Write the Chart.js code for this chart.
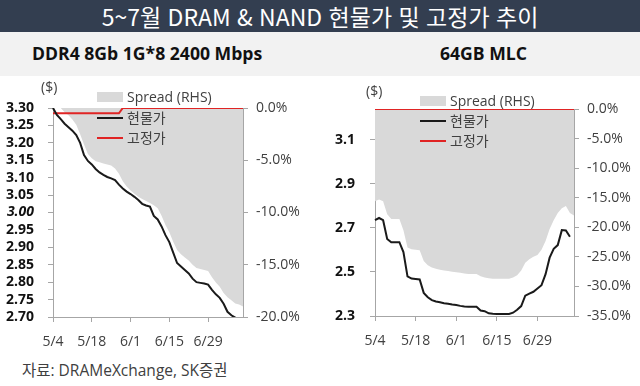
<!DOCTYPE html>
<html lang="ko">
<head>
<meta charset="utf-8">
<title>5~7월 DRAM &amp; NAND 현물가 및 고정가 추이</title>
<script src="https://cdn.jsdelivr.net/npm/chart.js@4.4.1/dist/chart.umd.min.js"></script>
<style>
    body {
        margin: 0;
        width: 640px;
        height: 386px;
        background: #fff;
        position: relative;
        overflow: hidden;
        font-family: "Open Sans", "Noto Sans CJK KR", sans-serif;
    }
    .title {
        position: absolute; left: 0; top: 0; width: 640px; height: 32px;
        background: #333e50; color: #fff;
        font-family: "Noto Sans CJK KR", sans-serif;
        font-size: 23px; line-height: 32px; text-align: center;
    }
    .band { position: absolute; left: 0; top: 32px; width: 640px; height: 44px; background: #f2f2f2; }
    .sub { position: absolute; top: 42px; font-weight: bold; font-size: 17.6px; line-height: 22px; color: #111; }
    .unit { position: absolute; font-size: 14px; line-height: 20px; color: #404040; }
    .chart { position: absolute; top: 76px; }
    .lg-box { position: absolute; width: 26px; height: 10px; background: #d9d9d9; }
    .lg-line { position: absolute; width: 26px; height: 2px; }
    .lg-text { position: absolute; font-size: 14px; line-height: 20px; color: #404040; white-space: nowrap; }
    .source { position: absolute; left: 22px; top: 360px; font-size: 15.5px; line-height: 20px; color: #404040; }
</style>
</head>
<body>
<div class="title">5~7월 DRAM &amp; NAND 현물가 및 고정가 추이</div>
<div class="band"></div>
<div class="sub" style="left:32px">DDR4 8Gb 1G*8 2400 Mbps</div>
<div class="sub" style="left:440px">64GB MLC</div>

<canvas id="ddrChart" class="chart" style="left:0" width="320" height="274"></canvas>
<canvas id="mlcChart" class="chart" style="left:320px" width="320" height="274"></canvas>

<div class="unit" style="left:41px; top:77px">($)</div>
<div class="unit" style="left:366px; top:81px">($)</div>

<!-- legend, left -->
<div class="lg-box" style="left:97px; top:92px"></div>
<div class="lg-text" style="left:127px; top:87px">Spread (RHS)</div>
<div class="lg-line" style="left:97px; top:117px; background:#1a1a1a"></div>
<div class="lg-text" style="left:127px; top:108px">현물가</div>
<div class="lg-line" style="left:97px; top:137px; background:#e02424"></div>
<div class="lg-text" style="left:127px; top:128px">고정가</div>

<!-- legend, right -->
<div class="lg-box" style="left:420px; top:96px"></div>
<div class="lg-text" style="left:450px; top:91px">Spread (RHS)</div>
<div class="lg-line" style="left:420px; top:120px; background:#1a1a1a"></div>
<div class="lg-text" style="left:450px; top:111px">현물가</div>
<div class="lg-line" style="left:420px; top:140px; background:#e02424"></div>
<div class="lg-text" style="left:450px; top:131px">고정가</div>

<div class="source">자료: DRAMeXchange, SK증권</div>

<script>
// weekdays, 5/4 ~ 7/10
const dates = [
    '5/4', '5/5', '5/6', '5/7', '5/8',
    '5/11', '5/12', '5/13', '5/14', '5/15',
    '5/18', '5/19', '5/20', '5/21', '5/22',
    '5/25', '5/26', '5/27', '5/28', '5/29',
    '6/1', '6/2', '6/3', '6/4', '6/5',
    '6/8', '6/9', '6/10', '6/11', '6/12',
    '6/15', '6/16', '6/17', '6/18', '6/19',
    '6/22', '6/23', '6/24', '6/25', '6/26',
    '6/29', '6/30', '7/1', '7/2', '7/3',
    '7/6', '7/7', '7/8', '7/9', '7/10'
];
const xTickLabels = ['5/4', '5/18', '6/1', '6/15', '6/29'];

// DDR4 8Gb ($), spread in %
const ddrSpot = [
    3.300, 3.280, 3.268, 3.255, 3.245, 3.235, 3.222, 3.200, 3.165, 3.148,
    3.138, 3.125, 3.115, 3.108, 3.102, 3.098, 3.093, 3.080, 3.069, 3.060,
    3.053, 3.045, 3.036, 3.025, 3.020, 3.017, 2.990, 2.980, 2.960, 2.935,
    2.915, 2.885, 2.855, 2.845, 2.835, 2.825, 2.810, 2.800, 2.798, 2.796,
    2.793, 2.778, 2.765, 2.755, 2.738, 2.715, 2.705, 2.698, 2.690, 2.682
];
const ddrFixed = [
    3.285, 3.285, 3.285, 3.285, 3.285, 3.285, 3.285, 3.285, 3.285, 3.285,
    3.285, 3.285, 3.285, 3.285, 3.285, 3.285, 3.285, 3.285, 3.300, 3.300,
    3.300, 3.300, 3.300, 3.300, 3.300, 3.300, 3.300, 3.300, 3.300, 3.300,
    3.300, 3.300, 3.300, 3.300, 3.300, 3.300, 3.300, 3.300, 3.300, 3.300,
    3.300, 3.300, 3.300, 3.300, 3.300, 3.300, 3.300, 3.300, 3.300, 3.300
];
const ddrSpread = [
    0, 0, 0, -0.4, -0.7, -1.1, -1.6, -2.5, -3.5, -4.4,
    -4.8, -5.1, -5.2, -5.3, -5.4, -5.5, -5.8, -6.3, -7.0, -7.5,
    -7.9, -8.2, -8.5, -8.7, -8.9, -9.1, -9.3, -9.6, -10.3, -11.2,
    -11.9, -12.8, -13.6, -14.0, -14.3, -14.6, -15.0, -15.3, -15.4, -15.5,
    -15.6, -16.2, -16.7, -17.1, -17.7, -18.1, -18.4, -18.7, -18.8, -19.0
];
const ddrPriceTicks = [2.70, 2.75, 2.80, 2.85, 2.90, 2.95, 3.00, 3.05, 3.10, 3.15, 3.20, 3.25, 3.30];
const ddrSpreadTicks = [0, -5, -10, -15, -20];

// 64GB MLC ($), spread in %
const mlcSpot = [
    2.735, 2.745, 2.735, 2.650, 2.635, 2.635, 2.635, 2.590, 2.480, 2.470,
    2.468, 2.466, 2.405, 2.385, 2.372, 2.366, 2.362, 2.358, 2.356, 2.352,
    2.350, 2.346, 2.343, 2.342, 2.342, 2.342, 2.325, 2.322, 2.312, 2.310,
    2.309, 2.309, 2.309, 2.309, 2.315, 2.328, 2.345, 2.392, 2.402, 2.410,
    2.425, 2.440, 2.490, 2.565, 2.605, 2.622, 2.690, 2.688, 2.660
];
const mlcFixed = [
    3.24, 3.24, 3.24, 3.24, 3.24, 3.24, 3.24, 3.24, 3.24, 3.24,
    3.24, 3.24, 3.24, 3.24, 3.24, 3.24, 3.24, 3.24, 3.24, 3.24,
    3.24, 3.24, 3.24, 3.24, 3.24, 3.24, 3.24, 3.24, 3.24, 3.24,
    3.24, 3.24, 3.24, 3.24, 3.24, 3.24, 3.24, 3.24, 3.24, 3.24,
    3.24, 3.24, 3.24, 3.24, 3.24, 3.24, 3.24, 3.24, 3.24, 3.24
];
const mlcSpread = [
    -15.6, -15.3, -15.6, -17.8, -18.6, -18.6, -18.6, -20.5, -23.4, -23.7,
    -23.8, -23.9, -25.7, -26.4, -26.8, -27.0, -27.2, -27.3, -27.4, -27.5,
    -27.6, -27.7, -27.8, -27.9, -27.9, -27.9, -28.3, -28.5, -28.6, -28.7,
    -28.7, -28.7, -28.7, -28.7, -28.5, -28.1, -27.3, -26.0, -25.4, -25.0,
    -24.7, -23.8, -22.3, -20.3, -18.8, -17.6, -16.8, -16.4, -17.6, -18.0
];
const mlcPriceTicks = [2.3, 2.5, 2.7, 2.9, 3.1];
const mlcSpreadTicks = [0, -5, -10, -15, -20, -25, -30, -35];

const axisColor = '#a6a6a6';
const labelColor = '#404040';

Chart.defaults.font.family = '"Open Sans", "Noto Sans CJK KR", sans-serif';
Chart.defaults.font.size = 14;

function makeChart(id, opt) {
    const ctx = document.getElementById(id).getContext('2d');
    return new Chart(ctx, {
        type: 'line',
        data: {
            labels: dates,
            datasets: [
                {
                    label: '현물가',
                    data: opt.spot,
                    yAxisID: 'y',
                    borderColor: '#1a1a1a',
                    borderWidth: 2,
                    pointRadius: 0,
                    fill: false
                },
                {
                    label: '고정가',
                    data: opt.fixed,
                    yAxisID: 'y',
                    borderColor: '#e02424',
                    borderWidth: 2,
                    pointRadius: 0,
                    fill: false
                },
                {
                    label: 'Spread (RHS)',
                    data: opt.spread,
                    yAxisID: 'y1',
                    borderColor: 'rgba(0,0,0,0)',
                    backgroundColor: '#d9d9d9',
                    borderWidth: 0,
                    pointRadius: 0,
                    fill: 'origin'
                }
            ]
        },
        options: {
            responsive: false,
            animation: false,
            events: [],
            layout: { padding: { top: opt.top, left: 0, right: 0, bottom: 0 } },
            plugins: {
                legend: { display: false },
                tooltip: { enabled: false }
            },
            scales: {
                x: {
                    type: 'category',
                    offset: false,
                    grid: { drawOnChartArea: false, color: axisColor, tickLength: 5 },
                    border: { color: axisColor },
                    ticks: { autoSkip: false, maxRotation: 0, padding: 12, color: labelColor },
                    afterBuildTicks: (scale) => {
                        scale.ticks = scale.ticks.filter(t => xTickLabels.includes(dates[t.value]));
                    },
                    afterFit: (scale) => { scale.height = opt.xHeight; }
                },
                y: {
                    position: 'left',
                    min: opt.min,
                    max: opt.max,
                    grid: { drawOnChartArea: false, color: axisColor, tickLength: 5 },
                    border: { color: axisColor },
                    ticks: {
                        autoSkip: false,
                        padding: opt.leftPad,
                        color: '#111',
                        font: (c) => ({
                            size: 14,
                            weight: 'bold',
                            style: c.tick && c.tick.value === 3 ? 'italic' : 'normal'
                        }),
                        callback: (v) => v.toFixed(opt.decimals)
                    },
                    afterBuildTicks: (scale) => {
                        scale.ticks = opt.priceTicks.map(v => ({ value: v }));
                    },
                    afterFit: (scale) => { scale.width = opt.leftWidth; }
                },
                y1: {
                    position: 'right',
                    min: opt.spreadTicks[opt.spreadTicks.length - 1],
                    max: 0,
                    grid: { drawOnChartArea: false, color: axisColor, tickLength: 5 },
                    border: { color: axisColor },
                    ticks: {
                        autoSkip: false,
                        padding: 8,
                        color: labelColor,
                        callback: (v) => v.toFixed(1) + '%'
                    },
                    afterBuildTicks: (scale) => {
                        scale.ticks = opt.spreadTicks.map(v => ({ value: v }));
                    },
                    afterFit: (scale) => { scale.width = opt.rightWidth; }
                }
            }
        }
    });
}

makeChart('ddrChart', {
    spot: ddrSpot, fixed: ddrFixed, spread: ddrSpread,
    priceTicks: ddrPriceTicks, spreadTicks: ddrSpreadTicks,
    min: 2.70, max: 3.30, decimals: 2,
    top: 32, xHeight: 33, leftWidth: 53, rightWidth: 77, leftPad: 14
});

makeChart('mlcChart', {
    spot: mlcSpot, fixed: mlcFixed, spread: mlcSpread,
    priceTicks: mlcPriceTicks, spreadTicks: mlcSpreadTicks,
    min: 2.3, max: 3.24, decimals: 1,
    top: 33, xHeight: 34, leftWidth: 55, rightWidth: 66, leftPad: 15
});
</script>
</body>
</html>
